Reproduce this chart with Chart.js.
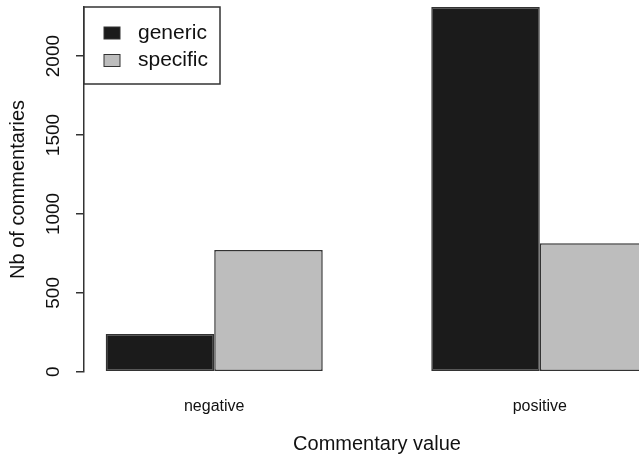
<!DOCTYPE html>
<html>
<head>
<meta charset="utf-8">
<script src="https://cdn.jsdelivr.net/npm/chart.js@4.4.1/dist/chart.umd.min.js"></script>
<style>
  html, body { margin: 0; padding: 0; background: #fff; overflow: hidden; }
  #wrap { width: 670px; height: 457px; }
</style>
</head>
<body>
<div id="wrap"><canvas id="chart"></canvas></div>
<script>
const categories = ["negative", "positive"];
const generic = [239, 2311];
const specific = [771, 814];
const seriesNames = ["generic", "specific"];
const yTicks = [0, 500, 1000, 1500, 2000];

// R barplot layout: bars of width 1, one empty bar between groups
const groupPos = categories.map((c, i) => 2 + 3 * i);

const colors = ["#1b1b1b", "#bdbdbd"];
const edge = "#333333";

// legend box drawn in the top-left corner of the plot, like R's legend("topleft")
const boxLegend = {
  id: "boxLegend",
  afterDatasetsDraw(chart) {
    const { ctx, chartArea } = chart;
    const x0 = chartArea.left, y0 = chartArea.top;
    ctx.save();
    ctx.strokeStyle = edge;
    ctx.lineWidth = 1.5;
    ctx.fillStyle = "#fff";
    ctx.fillRect(x0, y0, 136, 77);
    ctx.strokeRect(x0, y0, 136, 77);
    ctx.font = '21px "Liberation Sans", Arial, sans-serif';
    ctx.textBaseline = "middle";
    chart.data.datasets.forEach((ds, i) => {
      const cy = y0 + 26 + i * 27.5;
      ctx.fillStyle = ds.backgroundColor;
      ctx.fillRect(x0 + 20, cy - 6, 16, 12);
      ctx.lineWidth = 1;
      ctx.strokeRect(x0 + 20, cy - 6, 16, 12);
      ctx.fillStyle = "#111";
      ctx.fillText(ds.label, x0 + 54, cy);
    });
    ctx.restore();
  }
};

new Chart(document.getElementById("chart"), {
  type: "bar",
  data: {
    datasets: [
      {
        label: seriesNames[0],
        data: categories.map((c, i) => ({ x: groupPos[i], y: generic[i] })),
        backgroundColor: colors[0],
        borderColor: edge,
        borderWidth: 1.5,
        borderSkipped: false
      },
      {
        label: seriesNames[1],
        data: categories.map((c, i) => ({ x: groupPos[i], y: specific[i] })),
        backgroundColor: colors[1],
        borderColor: edge,
        borderWidth: 1.5,
        borderSkipped: false
      }
    ]
  },
  options: {
    responsive: true,
    maintainAspectRatio: false,
    animation: false,
    devicePixelRatio: 1,
    datasets: { bar: { categoryPercentage: 2 / 3, barPercentage: 1 } },
    layout: { padding: { top: 7, left: 0, right: 0, bottom: 0 } },
    plugins: {
      legend: { display: false },
      tooltip: { enabled: false }
    },
    scales: {
      x: {
        type: "linear",
        min: 0.8,
        max: 6.2,
        offset: false,
        grid: { display: false, drawTicks: false, offset: false },
        border: { display: false },
        afterBuildTicks: (scale) => { scale.ticks = groupPos.map(v => ({ value: v })); },
        ticks: {
          padding: 0,
          maxRotation: 0,
          autoSkip: false,
          color: "#111",
          font: { family: "Liberation Sans", size: 16, lineHeight: 4.325 },
          callback: (value, index) => categories[index]
        },
        title: {
          display: true,
          text: "Commentary value",
          color: "#111",
          font: { family: "Liberation Sans", size: 20, lineHeight: 0.3 },
          padding: { top: 0, bottom: 10 }
        }
      },
      y: {
        min: 0,
        max: Math.max(...generic, ...specific),
        afterBuildTicks: (scale) => { scale.ticks = yTicks.map(v => ({ value: v })); },
        grid: { drawOnChartArea: false, drawTicks: true, tickLength: 8, color: edge, lineWidth: 1.5 },
        border: { display: true, color: edge, width: 1.5 },
        ticks: {
          padding: 1,
          minRotation: 90,
          maxRotation: 90,
          crossAlign: "center",
          autoSkip: false,
          color: "#111",
          font: { family: "Liberation Sans", size: 19, lineHeight: 0.6 },
          callback: (value) => String(value)
        },
        title: {
          display: true,
          text: "Nb of commentaries",
          color: "#111",
          font: { family: "Liberation Sans", size: 20 },
          padding: { top: 6, bottom: 32.6 }
        }
      }
    }
  },
  plugins: [boxLegend]
});
</script>
</body>
</html>
